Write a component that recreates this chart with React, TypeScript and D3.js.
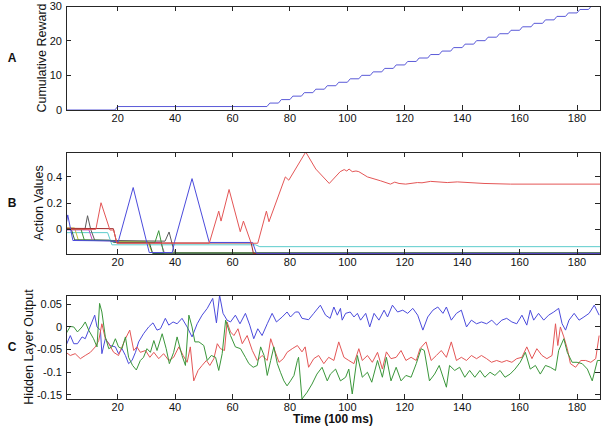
import React from 'react';
import * as d3 from 'd3';

type Pt = [number, number];

const W = 603;
const H = 429;
const LEFT = 66;
const RIGHT = 600;
const FONT = '"Liberation Sans", Arial, sans-serif';

const timeDomain: [number, number] = [2, 188];
const timeTicks = [20, 40, 60, 80, 100, 120, 140, 160, 180];

// panel A: time steps at which a reward arrived
const rewardTimes = [20, 73, 77, 81, 85, 89, 93, 97, 101, 105, 109, 113, 117, 121, 125, 129, 133, 137, 141, 145, 149, 153, 157, 161, 165, 169, 173, 177, 181, 185];
const rewardDomain: [number, number] = [0, 30];
const rewardTicks = [0, 10, 20, 30];

// panel B: action values
const valueDomain: [number, number] = [-0.188, 0.59];
const valueTicks = [0, 0.2, 0.4];
const qCyan: Pt[] = [[2, -0.025], [16.5, -0.025], [18, -0.118], [68, -0.118], [69.5, -0.132], [188, -0.132]];
const qOlive: Pt[] = [[2, 0.012], [5, 0.01], [6.3, -0.082], [17.5, -0.085], [19, -0.094], [30.5, -0.094], [32, -0.178], [188, -0.178]];
const qDarkGreen: Pt[] = [[2, 0.006], [3.8, 0.005], [5, -0.08], [17, -0.083], [18.8, -0.1], [31, -0.1], [32.2, -0.184], [188, -0.184]];
const qMagenta: Pt[] = [[2, -0.004], [10, -0.004], [11.2, -0.085], [18.5, -0.088], [20, -0.1], [35, -0.1], [36.3, -0.18], [188, -0.18]];
const qGray: Pt[] = [[2, 0], [8.6, 0], [9.5, 0.104], [10.6, 0], [12, -0.083], [36.5, -0.09], [37.9, -0.02], [39.8, -0.18], [188, -0.18]];
const qGreen: Pt[] = [[2, 0.004], [7.2, 0.002], [8.4, -0.083], [18, -0.086], [19.5, -0.098], [33, -0.098], [34.3, -0.01], [36, -0.18], [188, -0.18]];
const qMaroon: Pt[] = [[2, 0.008], [18.5, 0.005], [19.7, -0.104], [66.5, -0.104], [67.3, -0.185], [188, -0.185]];
const qBlue: Pt[] = [[2, 0.03], [2.6, 0.11], [4.4, -0.085], [17.5, -0.088], [20.2, -0.094], [25.4, 0.319], [31, -0.177], [39, -0.177], [39.8, -0.094], [45.9, 0.387], [51.9, -0.1], [67, -0.1], [68.3, -0.183], [188, -0.183]];
const qRed: Pt[] = [[2, 0], [12.4, 0], [14.2, 0.203], [17.3, -0.005], [18.6, -0.005], [19.7, -0.106], [51.9, -0.106], [55.2, 0.139], [56, 0.063], [58.8, 0.304], [62.7, -0.018], [63.8, 0.063], [66.5, -0.106], [68.8, -0.106], [71.8, 0.139], [72.7, 0.058], [78.4, 0.4], [79.6, 0.375], [85.5, 0.59], [89, 0.46], [93.7, 0.35], [97.5, 0.44], [98.9, 0.456], [99.8, 0.445], [100.6, 0.46], [101.7, 0.44], [103, 0.445], [104, 0.44], [107, 0.4], [111.6, 0.37], [115, 0.345], [116.5, 0.36], [118, 0.35], [120.3, 0.345], [124.4, 0.357], [126, 0.355], [129, 0.366], [134.8, 0.357], [138.3, 0.362], [147.6, 0.35], [156.8, 0.345], [188, 0.345]];

// panel C: hidden layer output
const hiddenDomain: [number, number] = [-0.159, 0.0705];
const hiddenTicks = [-0.15, -0.1, -0.05, 0, 0.05];
const hiddenTickLabels = ['-0.15', '-0.1', '-0.05', '0', '0.05'];
const hBlue: Pt[] = [[2, -0.041], [3.5, -0.019], [4.7, -0.037], [6, -0.037], [7.6, -0.022], [8.7, -0.026], [9.9, -0.007], [12, 0.026], [12.8, 0], [14, -0.007], [14.5, -0.059], [15.7, -0.026], [17.4, -0.041], [19.2, -0.044], [20.3, -0.059], [21.5, -0.048], [22.7, -0.063], [23.8, -0.081], [25, -0.074], [26.2, -0.056], [27.3, -0.033], [29, -0.015], [30.8, 0], [32.3, 0.009], [33.7, -0.007], [34.9, -0.004], [36.6, 0.019], [37.8, 0.004], [39.3, 0.011], [40.7, 0.007], [42.4, 0.019], [44.2, 0], [45.9, -0.022], [47.7, 0.007], [49.4, 0.026], [51.2, 0.041], [53.1, 0.063], [54.4, 0.009], [55.5, 0.07], [56.7, 0.03], [58.1, 0.015], [59.3, 0.011], [61, 0.026], [62.6, 0.007], [64.5, 0.03], [66, 0.004], [67.4, -0.026], [68.8, -0.004], [70.3, -0.019], [72.1, 0.007], [73.8, 0.03], [75.3, 0.011], [77.3, 0.022], [79, 0.033], [80.2, 0.022], [81.9, 0.033], [83, 0.033], [84.2, 0.019], [86.5, 0.016], [88.3, 0.03], [90.6, 0.048], [92.4, 0.026], [94, 0.019], [95.3, 0.044], [96.5, 0.026], [97.6, 0.041], [98.2, 0.015], [99.4, 0.03], [101, 0.033], [102.3, 0.022], [103.5, 0.03], [104.6, 0.015], [106.4, 0.03], [107.8, 0], [109.3, 0.03], [111, 0.015], [112.8, 0.037], [114, 0.022], [115.7, 0.048], [117.5, 0.033], [119.3, 0.037], [121, 0.03], [122.8, 0.041], [124.5, 0.026], [126.3, -0.007], [128, 0.022], [129.8, 0.037], [131.5, 0.044], [133.3, 0.03], [134.5, 0.044], [136.2, 0.015], [138, 0.03], [139.7, 0.037], [141.5, 0], [143.2, 0.015], [145, 0.007], [146.7, 0.011], [148.5, 0.007], [150.3, 0.015], [152, 0.004], [153.8, 0.015], [155.5, 0.019], [157.3, 0.011], [159, 0.007], [160.8, 0.026], [162.5, 0.004], [163.7, 0.037], [164.9, 0.015], [166.6, 0.03], [168.4, 0.015], [170.1, 0.026], [171.9, 0.033], [173.6, 0.041], [174.8, 0.007], [176, -0.007], [177.2, 0.015], [179, 0.03], [180.7, 0.015], [182.4, 0.022], [184.2, 0.03], [186, 0.048], [187.7, 0.026]];
const hRed: Pt[] = [[2, -0.056], [3.5, -0.063], [5.2, -0.059], [7, -0.07], [8.7, -0.063], [10.5, -0.056], [12.2, -0.044], [13.4, -0.03], [14.5, 0.007], [15.7, -0.026], [16.9, -0.037], [18.6, -0.056], [20.3, -0.063], [21.5, -0.044], [22.7, -0.026], [24.2, -0.007], [25.6, -0.052], [26.7, -0.044], [27.9, -0.056], [29.7, -0.052], [31.2, -0.067], [32.6, -0.056], [34.3, -0.07], [36, -0.059], [37.8, -0.074], [39.5, -0.067], [41.3, -0.044], [42.8, -0.063], [44.2, -0.078], [45.3, -0.044], [46.5, -0.119], [48, -0.096], [49.4, -0.085], [50.9, -0.074], [52.1, -0.085], [53.5, -0.07], [54.7, -0.037], [55.8, -0.048], [57.2, -0.052], [58.1, 0.011], [59.3, -0.011], [60.5, -0.019], [61.9, -0.004], [63.4, -0.037], [65.1, -0.019], [66.9, -0.052], [68.6, -0.074], [70.3, -0.063], [72.1, -0.074], [73.3, -0.026], [74.7, -0.052], [76.2, -0.078], [77.7, -0.07], [79, -0.056], [80.8, -0.048], [82.6, -0.041], [84.2, -0.055], [85.3, -0.044], [86.5, -0.089], [88.3, -0.07], [90, -0.063], [91.8, -0.081], [93.5, -0.067], [95.3, -0.074], [97, -0.033], [98.8, -0.067], [100.5, -0.074], [102.3, -0.081], [104, -0.048], [105.2, -0.074], [107, -0.063], [108.7, -0.078], [110.5, -0.056], [112.2, -0.093], [113.6, -0.055], [115.2, -0.07], [117, -0.067], [118.7, -0.052], [120.4, -0.074], [122.2, -0.067], [124, -0.074], [125.3, -0.048], [127.4, -0.033], [129.2, -0.074], [131, -0.063], [132.7, -0.052], [134.5, -0.067], [136.2, -0.033], [138, -0.074], [139.7, -0.067], [141.5, -0.074], [143.2, -0.063], [145, -0.07], [146.7, -0.063], [148.5, -0.07], [150.2, -0.078], [152, -0.074], [153.8, -0.078], [155.5, -0.074], [157.3, -0.078], [159, -0.07], [160.8, -0.067], [162.5, -0.044], [164.3, -0.07], [166, -0.048], [167.8, -0.063], [169.5, -0.07], [171.3, -0.063], [172.5, 0.007], [173.3, -0.041], [174.2, 0], [175.4, -0.022], [176.6, -0.048], [177.7, -0.081], [179.5, -0.089], [181.3, -0.074], [183, -0.074], [184.8, -0.078], [186.5, -0.07], [187.7, -0.019]];
const hGreen: Pt[] = [[2, -0.015], [3.5, 0.001], [4.7, 0], [6, -0.011], [7.6, 0], [8.7, 0.011], [9.9, -0.007], [11.6, -0.026], [12.8, -0.044], [13.7, 0.052], [14.5, 0.033], [15.7, -0.022], [16.9, -0.048], [18, -0.044], [19.2, -0.026], [20.3, -0.044], [21.5, -0.048], [22.7, -0.022], [23.8, -0.067], [25.2, -0.085], [26.5, -0.095], [27.9, -0.074], [29, -0.067], [30.2, -0.048], [31.4, -0.056], [32.6, -0.03], [33.7, -0.052], [35.5, -0.015], [36.9, -0.048], [38, -0.081], [39.5, -0.056], [40.7, -0.022], [42.4, -0.063], [43.6, -0.085], [44.8, 0.026], [45.9, 0], [46.9, -0.033], [48.3, -0.033], [50, -0.041], [51.2, -0.074], [52.6, -0.063], [54.1, -0.067], [55.2, -0.096], [56.4, -0.059], [57.6, 0.015], [59.3, -0.019], [61, -0.044], [62.8, -0.048], [64.5, -0.067], [65.7, -0.081], [67.2, -0.089], [68.6, -0.085], [69.8, -0.044], [71, -0.063], [72.1, -0.107], [73.3, -0.074], [74.4, -0.044], [75.6, -0.081], [76.7, -0.1], [77.9, -0.119], [79, -0.13], [80.2, -0.119], [81.4, -0.107], [82.6, -0.074], [83, -0.067], [84.2, -0.159], [86, -0.144], [87.7, -0.126], [89.4, -0.104], [91.2, -0.089], [93, -0.119], [94.1, -0.104], [95.9, -0.093], [97.6, -0.119], [99.4, -0.111], [100.5, -0.093], [101.7, -0.148], [103.5, -0.063], [105.2, -0.111], [107, -0.1], [108.5, -0.122], [110.5, -0.074], [112.2, -0.111], [113.6, -0.067], [115.2, -0.119], [117, -0.089], [118.7, -0.119], [120.4, -0.107], [122.2, -0.111], [124, -0.081], [125.7, -0.048], [126.8, -0.052], [128.6, -0.119], [130.4, -0.104], [132, -0.085], [134.5, -0.133], [135.6, -0.085], [137.4, -0.096], [139.1, -0.089], [140.9, -0.111], [142.6, -0.096], [144.4, -0.111], [146.2, -0.096], [147.9, -0.111], [149.7, -0.1], [151.4, -0.107], [153.2, -0.096], [154.9, -0.111], [156.7, -0.104], [158.4, -0.093], [160.2, -0.078], [162, -0.056], [163.7, -0.093], [165.5, -0.085], [167.2, -0.104], [169, -0.085], [170.7, -0.089], [172.5, -0.096], [173.6, -0.052], [175.4, -0.026], [176.6, -0.056], [178.3, -0.078], [180, -0.078], [181.8, -0.081], [183.6, -0.093], [185.3, -0.119], [187.1, -0.074], [188, -0.074]];

const C_BLUE = '#4b4bdc';
const C_RED = '#e45656';
const C_GREEN = '#3a963a';

interface FrameProps {
  id: string;
  top: number;
  bottom: number;
  domain: [number, number];
  yTicks: number[];
  yTickLabels: string[];
  title: string;
  titleX: number;
  letter: string;
  series: { pts: Pt[]; color: string }[];
}

const Frame: React.FC<FrameProps> = ({ id, top, bottom, domain, yTicks, yTickLabels, title, titleX, letter, series }) => {
  const x = d3.scaleLinear().domain(timeDomain).range([LEFT, RIGHT]);
  const y = d3.scaleLinear().domain(domain).range([bottom, top]);
  const line = d3.line<Pt>().x(d => x(d[0])).y(d => y(d[1]));
  const mid = (top + bottom) / 2;
  const tk = 5;
  return (
    <g>
      <defs>
        <clipPath id={id}>
          <rect x={LEFT} y={top} width={RIGHT - LEFT} height={bottom - top} />
        </clipPath>
      </defs>
      <g clipPath={`url(#${id})`}>
        {series.map((s, i) => (
          <path key={i} d={line(s.pts) || ''} fill="none" stroke={s.color} strokeWidth={1} />
        ))}
      </g>
      <g stroke="#262626" strokeWidth={1} shapeRendering="crispEdges">
        <rect x={LEFT} y={top} width={RIGHT - LEFT} height={bottom - top} fill="none" />
        {timeTicks.map(t => (
          <g key={t}>
            <line x1={x(t)} x2={x(t)} y1={bottom} y2={bottom - tk} />
            <line x1={x(t)} x2={x(t)} y1={top} y2={top + tk} />
          </g>
        ))}
        {yTicks.map(v => (
          <g key={v}>
            <line x1={LEFT} x2={LEFT + tk} y1={y(v)} y2={y(v)} />
            <line x1={RIGHT} x2={RIGHT - tk} y1={y(v)} y2={y(v)} />
          </g>
        ))}
      </g>
      <g fontFamily={FONT} fontSize={11} fill="#111">
        {timeTicks.map(t => (
          <text key={t} x={x(t)} y={bottom + 12} textAnchor="middle">{t}</text>
        ))}
        {yTicks.map((v, i) => (
          <text key={v} x={LEFT - 4} y={y(v)} dy="0.35em" textAnchor="end">{yTickLabels[i]}</text>
        ))}
      </g>
      <text transform={`translate(${titleX},${mid}) rotate(-90)`} textAnchor="middle" dy="0.35em"
        fontFamily={FONT} fontSize={12.5} fill="#111">{title}</text>
      <text x={12} y={mid} dy="0.35em" textAnchor="middle" fontFamily={FONT} fontSize={12}
        fontWeight="bold" fill="#111">{letter}</text>
    </g>
  );
};

export default function App() {
  // cumulative reward as a staircase; each step rises over one time step
  const reward: Pt[] = [[timeDomain[0], 0]];
  rewardTimes.forEach((t, i) => {
    reward.push([t - 1, i]);
    reward.push([t, i + 1]);
  });
  reward.push([timeDomain[1], rewardTimes.length]);

  return (
    <svg width={W} height={H} style={{ position: 'absolute', left: 0, top: 0, background: '#fff' }}>
      <Frame id="clipA" top={6} bottom={110} domain={rewardDomain} yTicks={rewardTicks}
        yTickLabels={rewardTicks.map(String)} title="Cumulative Reward" titleX={42} letter="A"
        series={[{ pts: reward, color: '#5a5ad8' }]} />
      <Frame id="clipB" top={152} bottom={254} domain={valueDomain} yTicks={valueTicks}
        yTickLabels={['0', '0.2', '0.4']} title="Action Values" titleX={39} letter="B"
        series={[
          { pts: qCyan, color: '#5ccccc' },
          { pts: qOlive, color: '#c4c03a' },
          { pts: qDarkGreen, color: '#2e5e3e' },
          { pts: qMagenta, color: '#c048c0' },
          { pts: qGray, color: '#5a5a5a' },
          { pts: qGreen, color: C_GREEN },
          { pts: qMaroon, color: '#a02828' },
          { pts: qBlue, color: C_BLUE },
          { pts: qRed, color: C_RED },
        ]} />
      <Frame id="clipC" top={295} bottom={399} domain={hiddenDomain} yTicks={hiddenTicks}
        yTickLabels={hiddenTickLabels} title="Hidden Layer Output" titleX={29} letter="C"
        series={[
          { pts: hBlue, color: C_BLUE },
          { pts: hRed, color: C_RED },
          { pts: hGreen, color: C_GREEN },
        ]} />
      <text x={(LEFT + RIGHT) / 2} y={423} textAnchor="middle" fontFamily={FONT} fontSize={12}
        fontWeight="bold" fill="#111">Time (100 ms)</text>
    </svg>
  );
}
